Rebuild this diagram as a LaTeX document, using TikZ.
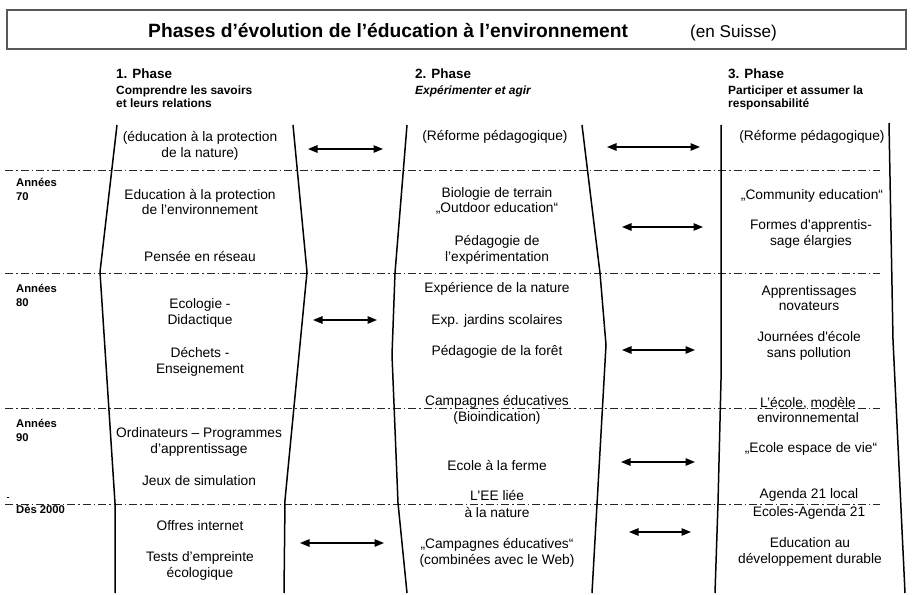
\documentclass[tikz,border=0pt]{standalone}
\usepackage{fontspec}
\setmainfont{Liberation Sans}
\usetikzlibrary{arrows.meta}
\tikzset{
  body/.style={inner sep=0pt, align=center, font=\fontsize{13.8}{15.5}\selectfont},
  yearlbl/.style={inner sep=0pt, anchor=base west, font=\fontsize{11.3}{13}\selectfont\bfseries},
  phasehd/.style={inner sep=0pt, anchor=base west, font=\fontsize{13.5}{15}\selectfont\bfseries},
  phasesub/.style={inner sep=0pt, anchor=base west, font=\fontsize{12}{13}\selectfont\bfseries},
  colline/.style={line width=1.5bp, line join=round},
  sepline/.style={line width=1bp, black!85, dash pattern=on 8bp off 3bp on 1.5bp off 3bp},
  dblarrow/.style={line width=1.2bp, {Triangle[length=9.5bp,width=7.5bp]}-{Triangle[length=9.5bp,width=7.5bp]}},
}
\begin{document}
\begin{tikzpicture}[x=1bp,y=-1bp]
\useasboundingbox (0,0) rectangle (912,595);
% title box
\draw[line width=1.3bp, black!65] (7,10) rectangle (906,49);
\node[inner sep=0pt, anchor=base west, font=\fontsize{19.3}{22}\selectfont\bfseries] (title) at (148,38) {Phases d’évolution de l’éducation à l’environnement};
\node[inner sep=0pt, anchor=base west, font=\fontsize{17.2}{20}\selectfont] (subtitle) at (690,38) {(en Suisse)};
% phase headers
\node[phasehd] (p1) at (116,79) {1. Phase};
\node[phasesub] (p1a) at (116,95) {Comprendre les savoirs};
\node[phasesub] (p1b) at (116,108) {et leurs relations};
\node[phasehd] (p2) at (415,79) {2. Phase};
\node[phasesub, font=\fontsize{12}{13}\selectfont\bfseries\itshape] (p2a) at (415,95) {Expérimenter et agir};
\node[phasehd] (p3) at (728,79) {3. Phase};
\node[phasesub] (p3a) at (728,95) {Participer et assumer la};
\node[phasesub] (p3b) at (728,108) {responsabilité};
% separator lines
\draw[sepline] (5,171) -- (880,171);
\draw[sepline] (5,273) -- (880,273);
\draw[sepline] (5,408) -- (880,408);
\draw[sepline] (5,504) -- (880,504);
\fill (7,496.5) rectangle (9,497.5);
% column lines
\draw[colline] (117,125) -- (100,272) -- (115,503) -- (115,593);
\draw[colline] (293,125) -- (307,272) -- (285,500) -- (284,593);
\draw[colline] (407,125) -- (395,273) -- (392,355) -- (398,503) -- (407,593);
\draw[colline] (582,125) -- (600,273) -- (606,345) -- (592,593);
\draw[colline] (721,125) -- (721,380) -- (718,503) -- (715,593);
\draw[colline] (889,123) -- (893,340) -- (905,593);
% year labels
\node[yearlbl] (y70a) at (16,187) {Années};
\node[yearlbl] (y70b) at (16,201) {70};
\node[yearlbl] (y80a) at (16,292) {Années};
\node[yearlbl] (y80b) at (16,306) {80};
\node[yearlbl] (y90a) at (16,427) {Années};
\node[yearlbl] (y90b) at (16,441) {90};
\node[yearlbl] (y00) at (16,513) {Dès 2000};
% column 1
\node[body] (c1a) at (200,146) {(éducation à la protection\\de la nature)};
\node[body] (c1b) at (200,202) {Education à la protection\\de l’environnement};
\node[body] (c1c) at (200,257) {Pensée en réseau};
\node[body] (c1d) at (200,313) {Ecologie -\\Didactique};
\node[body] (c1e) at (200,362) {Déchets -\\Enseignement};
\node[body] (c1f) at (199,442) {Ordinateurs – Programmes\\d’apprentissage};
\node[body] (c1g) at (199,481) {Jeux de simulation};
\node[body] (c1h) at (200,526) {Offres internet};
\node[body] (c1i) at (200,566) {Tests d’empreinte\\écologique};
% column 2
\node[body] (c2a) at (495,137) {(Réforme pédagogique)};
\node[body] (c2b) at (497,201) {Biologie de terrain\\„Outdoor education“};
\node[body] (c2c) at (497,250) {Pédagogie de\\l’expérimentation};
\node[body] (c2d) at (497,289) {Expérience de la nature};
\node[body] (c2e) at (497,321) {Exp. jardins scolaires};
\node[body] (c2f) at (497,352) {Pédagogie de la forêt};
\node[body] (c2g) at (497,410) {Campagnes éducatives\\(Bioindication)};
\node[body] (c2h) at (497,466) {Ecole à la ferme};
\node[body] (c2i) at (497,504) {L\textquotesingle EE liée\\[2.5bp]à la nature};
\node[body] (c2j) at (497,553) {„Campagnes éducatives“\\(combinées avec le Web)};
% column 3
\node[body] (c3a) at (812,137) {(Réforme pédagogique)};
\node[body] (c3b) at (812,196) {„Community education“};
\node[body] (c3c) at (811,234) {Formes d\textquotesingle apprentis-\\sage élargies};
\node[body] (c3d) at (809,298) {Apprentissages\\novateurs};
\node[body] (c3e) at (809,346) {Journées d\textquotesingle école\\sans pollution};
\node[body] (c3f) at (808,410) {L’école, modèle\\environnemental};
\node[body] (c3g) at (811,449) {„Ecole espace de vie“};
\node[body] (c3h) at (809,495) {Agenda 21 local};
\node[body] (c3i) at (809,513) {Ecoles-Agenda 21};
\node[body] (c3j) at (810,552) {Education au\\développement durable};
% arrow end points
\coordinate (a1l) at (308,149); \coordinate (a1r) at (383,149);
\coordinate (a2l) at (607,147); \coordinate (a2r) at (700,147);
\coordinate (a3l) at (622,227); \coordinate (a3r) at (703,227);
\coordinate (a4l) at (313,320); \coordinate (a4r) at (377,320);
\coordinate (a5l) at (622,350); \coordinate (a5r) at (695,350);
\coordinate (a6l) at (621,462); \coordinate (a6r) at (695,462);
\coordinate (a7l) at (629,532); \coordinate (a7r) at (691,532);
\coordinate (a8l) at (300,543); \coordinate (a8r) at (384,543);
\foreach \i in {1,...,8} {\draw[dblarrow] (a\i l) -- (a\i r);}
\end{tikzpicture}
\end{document}
